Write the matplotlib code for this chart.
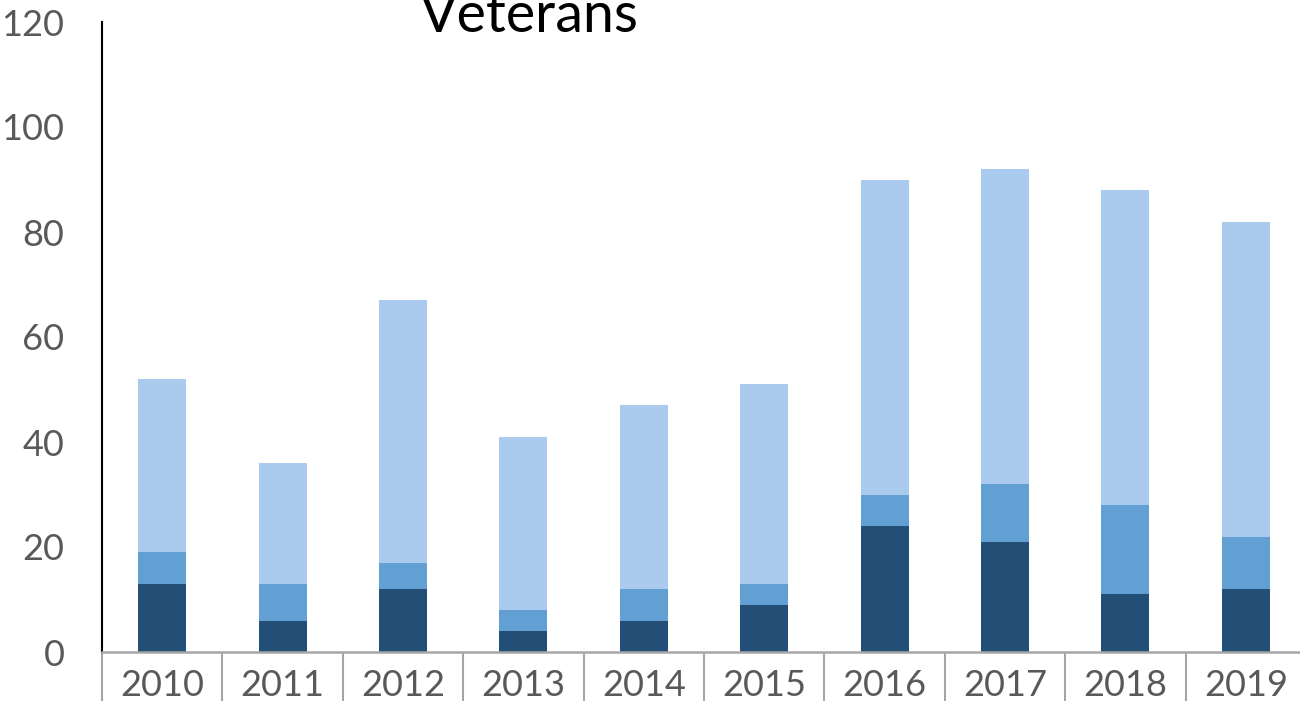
import matplotlib
matplotlib.use("Agg")
import matplotlib.pyplot as plt
import numpy as np

# values
years = ['2010', '2011', '2012', '2013', '2014', '2015', '2016', '2017', '2018', '2019']
dark = [13, 6, 12, 4, 6, 9, 24, 21, 11, 12]
mid = [6, 7, 5, 4, 6, 4, 6, 11, 17, 10]
light = [33, 23, 50, 33, 35, 38, 60, 60, 60, 60]

plt.rcParams['font.family'] = ['Lato', 'DejaVu Sans']

fig = plt.figure(figsize=(13, 7.01), dpi=100)
ax = fig.add_axes([102/1300, 1-652/701, 1204/1300, 630/701])

x = np.arange(len(years))
w = 0.4
ax.bar(x, dark, w, color='#234F77')
ax.bar(x, mid, w, bottom=dark, color='#629FD3')
bot2 = np.array(dark) + np.array(mid)
ax.bar(x, light, w, bottom=bot2, color='#AACBEE')

ax.set_xlim(-0.5, len(years) - 0.5)
ax.set_ylim(0, 120)
ax.set_yticks(range(0, 121, 20))
ax.set_xticks(x)
ax.set_xticklabels(years)
ax.set_xticks(np.arange(-0.5, len(years)), minor=True)

for s in ['top', 'right']:
    ax.spines[s].set_visible(False)
ax.spines['left'].set_color('black')
ax.spines['left'].set_linewidth(1.5)
ax.spines['bottom'].set_color('#A6A6A6')
ax.spines['bottom'].set_linewidth(1.8)

ax.tick_params(axis='y', length=0, pad=27, labelsize=26, labelcolor='#595959')
ax.tick_params(axis='x', which='major', length=0, pad=12, labelsize=26, labelcolor='#595959')
ax.tick_params(axis='x', which='minor', length=40, width=1.5, color='#A6A6A6', direction='out')

fig.text(529/1300, 1-32/701, 'Veterans', ha='center', va='baseline', fontsize=40, color='black')

fig.savefig('out.png', dpi=100)
